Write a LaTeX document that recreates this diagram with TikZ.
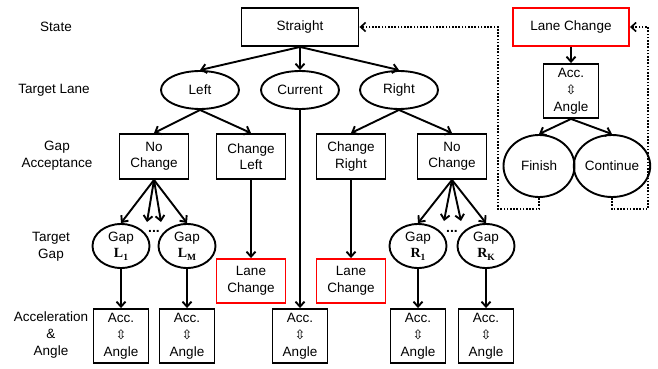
\documentclass[tikz,border=0pt]{standalone}
\usepackage{fontspec}
\setmainfont{Liberation Sans}
\newfontfamily\arrowfont{DejaVu Sans}
\newfontfamily\gapfont{Liberation Serif}
\usetikzlibrary{arrows.meta,shapes.geometric}

% up-down white arrow between acceleration and angle
\newcommand{\updn}{{\arrowfont\fontsize{13}{17}\selectfont ⇳}}
% bold serif gap name with a lowered index
\newcommand{\gapname}[2]{{\gapfont\bfseries\fontsize{14}{16.5}\selectfont #1\raisebox{-2.5pt}{\fontsize{9.5}{9.5}\selectfont #2}}}

\begin{document}
\begin{tikzpicture}[x=1pt,y=-1pt,
  every node/.style={font=\fontsize{13.5}{16.5}\selectfont, inner sep=0pt, align=center},
  shape frame/.style={draw, line width=1.9pt},
  statebox/.style={shape frame, rectangle, minimum width=117pt, minimum height=38pt},
  choicebox/.style={shape frame, rectangle, minimum width=69pt, minimum height=45pt},
  accbox/.style={shape frame, rectangle, minimum width=55pt, minimum height=54pt,
    font=\fontsize{13.5}{17}\selectfont},
  lanebox/.style={shape frame, ellipse, minimum width=78pt, minimum height=38pt},
  gapbox/.style={shape frame, ellipse, minimum width=57pt, minimum height=44pt},
  endbox/.style={shape frame, ellipse, minimum width=71pt, minimum height=62pt},
  alert/.style={draw=red},
  link/.style={line width=1.9pt, -{Straight Barb[length=5pt,width=9pt]}},
  feedback/.style={line width=1.6pt, dash pattern=on 1.6pt off 1.6pt,
    -{Straight Barb[length=5pt,width=9pt]}},
  rowlabel/.style={font=\fontsize{13.5}{17}\selectfont},
  gapdots/.style={font=\bfseries\fontsize{14}{14}\selectfont}]

\useasboundingbox (0,0) rectangle (658,369);

% row labels
\node[rowlabel] (lState) at (56,27) {State};
\node[rowlabel] (lLane)  at (54,90) {Target Lane};
\node[rowlabel] (lAcc)   at (57,156) {Gap\\Acceptance};
\node[rowlabel] (lGap)   at (51,247) {Target\\Gap};
\node[rowlabel] (lAngle) at (51,335) {Acceleration\\\&\\Angle};

% state level
\node[statebox] (straight) at (300,27) {Straight};
\node[statebox, alert, minimum width=116pt] (lc) at (571,27) {Lane Change};

% target lane
\node[lanebox] (left)    at (200,90) {Left};
\node[lanebox] (current) at (300,90) {Current};
\node[lanebox] (right)   at (399,90) {Right};

% gap acceptance
\node[choicebox] (ncL) at (154,156.5) {No\\Change};
\node[choicebox] (cL)  at (251,156.5) {Change\\Left};
\node[choicebox] (cR)  at (351,156.5) {Change\\Right};
\node[choicebox] (ncR) at (452,156.5) {No\\Change};

% target gaps
\node[gapbox] (gL1) at (121,246) {Gap\\\gapname{L}{1}};
\node[gapbox] (gLM) at (187,246) {Gap\\\gapname{L}{M}};
\node[gapbox] (gR1) at (418,246) {Gap\\\gapname{R}{1}};
\node[gapbox] (gRK) at (486,246) {Gap\\\gapname{R}{K}};
\node[gapdots] (dotsL) at (154,231) {...};
\node[gapdots] (dotsR) at (452,231) {...};

% lane change outcomes
\node[choicebox, alert, minimum height=44pt] (lcL) at (251,281) {Lane\\Change};
\node[choicebox, alert, minimum height=44pt] (lcR) at (351,281) {Lane\\Change};

% acceleration / angle
\node[accbox] (a1) at (121,336) {Acc.\\\updn\\Angle};
\node[accbox] (a2) at (187,336) {Acc.\\\updn\\Angle};
\node[accbox] (a3) at (300,336) {Acc.\\\updn\\Angle};
\node[accbox] (a4) at (418,336) {Acc.\\\updn\\Angle};
\node[accbox] (a5) at (486,336) {Acc.\\\updn\\Angle};

% lane change manoeuvre
\node[accbox] (aLC) at (571,91) {Acc.\\\updn\\Angle};
\node[endbox] (finish) at (539,166) {Finish};
\node[endbox] (cont)   at (612,166) {Continue};

% free ends of the intermediate gap arrows
\coordinate (mL1) at (147,222);
\coordinate (mL2) at (161,222);
\coordinate (mR1) at (444,221);
\coordinate (mR2) at (461,221);
% corners of the feedback loops
\coordinate (fbL) at (498,209);
\coordinate (fbR) at (648,209);

% connectors
\draw[link] (straight.south) -- (left.north);
\draw[link] (straight.south) -- (current.north);
\draw[link] (straight.south) -- (right.north);

\draw[link] (left.south) -- (ncL.north);
\draw[link] (left.south) -- (cL.north);
\draw[link] (right.south) -- (cR.north);
\draw[link] (right.south) -- (ncR.north);

\draw[link] (ncL.south) -- (gL1.north);
\draw[link] (ncL.south) -- (mL1);
\draw[link] (ncL.south) -- (mL2);
\draw[link] (ncL.south) -- (gLM.north);
\draw[link] (ncR.south) -- (gR1.north);
\draw[link] (ncR.south) -- (mR1);
\draw[link] (ncR.south) -- (mR2);
\draw[link] (ncR.south) -- (gRK.north);

\draw[link] (cL.south) -- (lcL.north);
\draw[link] (cR.south) -- (lcR.north);
\draw[link] (current.south) -- (a3.north);

\draw[link] (gL1.south) -- (a1.north);
\draw[link] (gLM.south) -- (a2.north);
\draw[link] (gR1.south) -- (a4.north);
\draw[link] (gRK.south) -- (a5.north);

\draw[link] (lc.south) -- (aLC.north);
\draw[link] (aLC.south) -- (finish.north);
\draw[link] (aLC.south) -- (cont.north);

\draw[feedback] (finish.south) |- (fbL) |- (straight.east);
\draw[feedback] (cont.south) |- (fbR) |- (lc.east);

\end{tikzpicture}
\end{document}
